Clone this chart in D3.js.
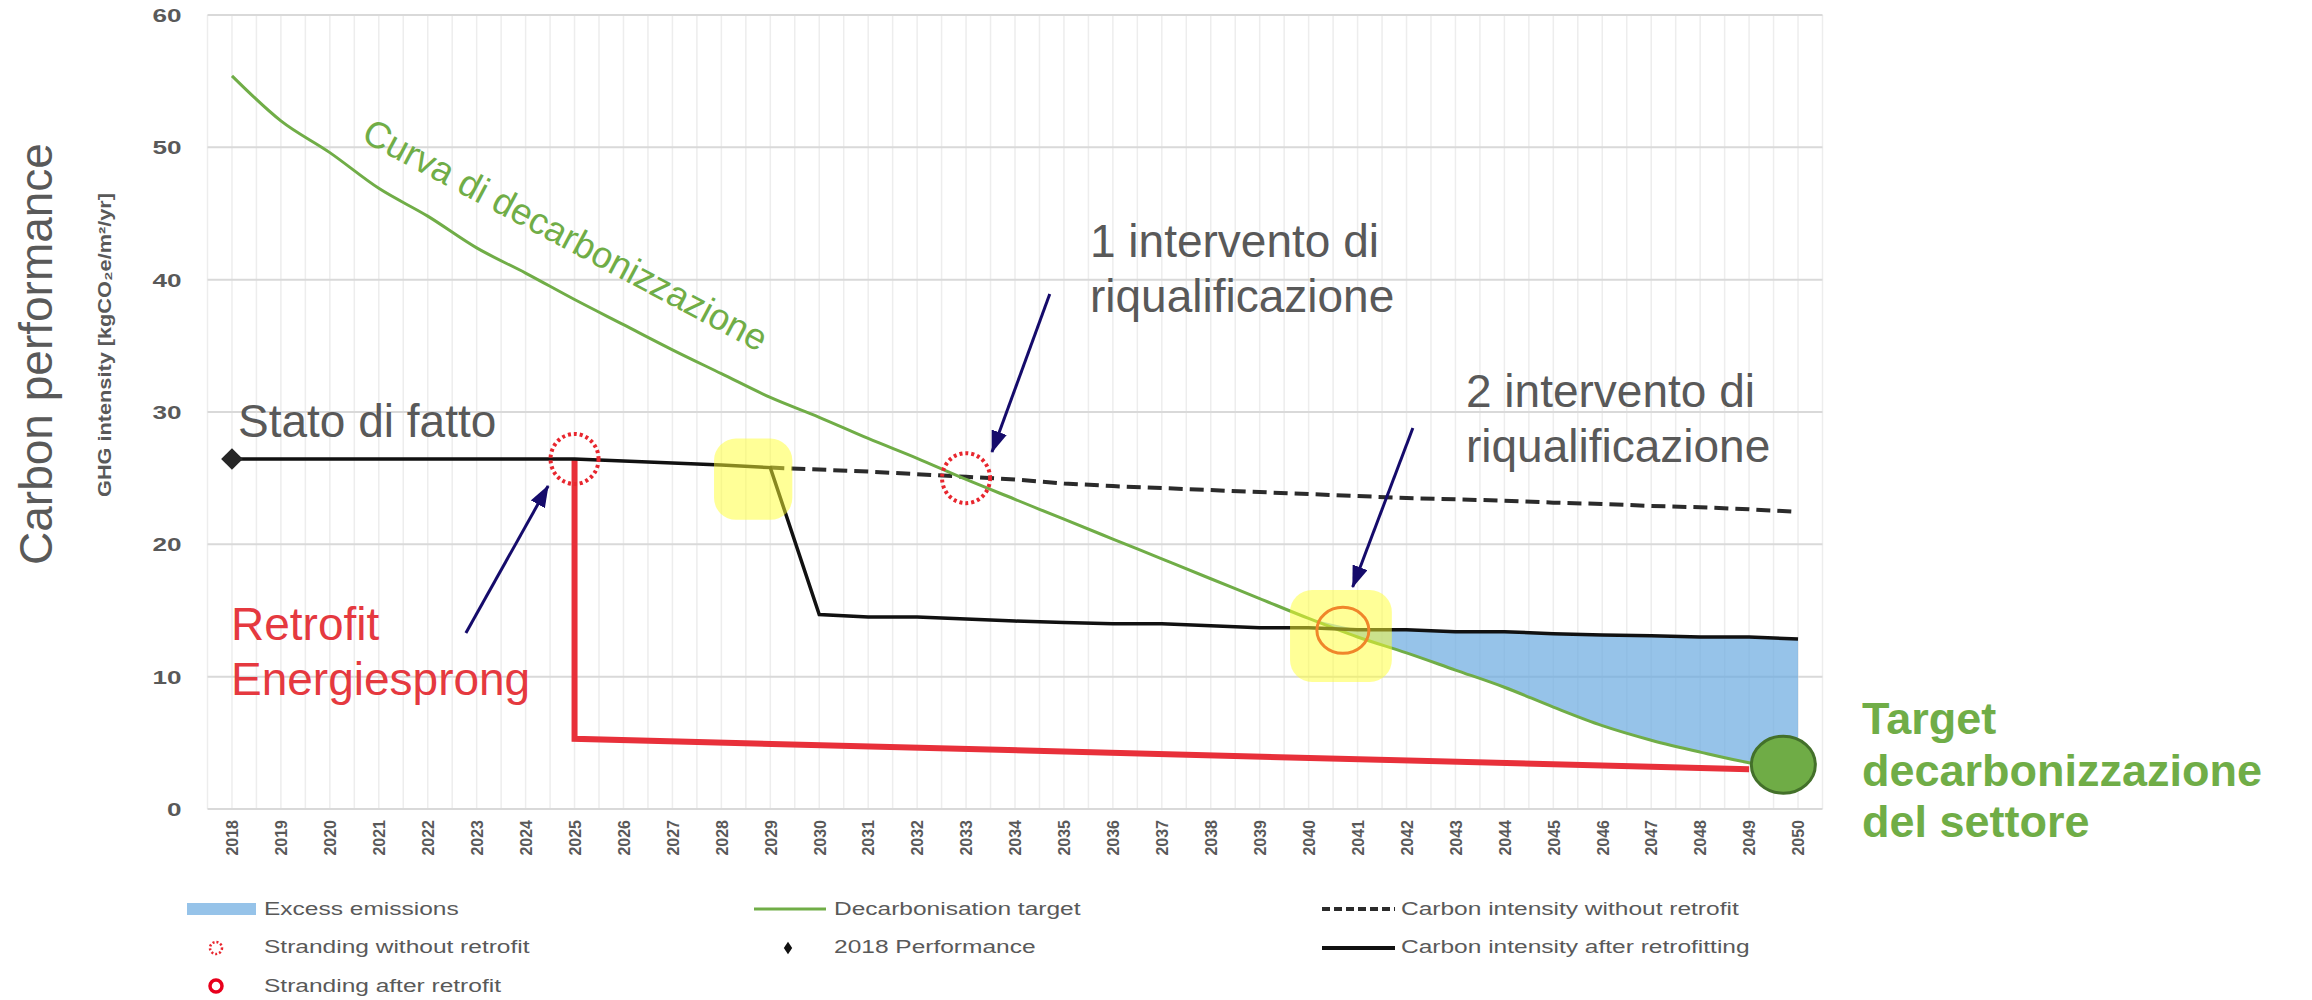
<!DOCTYPE html>
<html lang="it">
<head>
<meta charset="UTF-8" />
<title>Carbon performance - curva di decarbonizzazione</title>
<script src="https://cdn.jsdelivr.net/npm/d3@7"></script>
<style>
  body { margin: 0; background: #fff; }
  svg { display: block; font-family: "Liberation Sans", Arial, Helvetica, sans-serif; }
  .grid-h { stroke: #d9d9d9; stroke-width: 2; }
  .grid-v { stroke: #ededed; stroke-width: 1.5; }
  .note { fill: #595959; font-size: 46px; }
  .legend text { fill: #595959; font-size: 17.5px; }
</style>
</head>
<body>
<svg width="2312" height="1000"></svg>
<script>
// years on the category axis
var years = [2018, 2019, 2020, 2021, 2022, 2023, 2024, 2025, 2026, 2027, 2028,
  2029, 2030, 2031, 2032, 2033, 2034, 2035, 2036, 2037, 2038, 2039, 2040,
  2041, 2042, 2043, 2044, 2045, 2046, 2047, 2048, 2049, 2050];
var yTicks = [0, 10, 20, 30, 40, 50, 60];

// kgCO2e/m2/yr
var decarbonisation = [55.4, 52.0, 49.6, 46.9, 44.8, 42.4, 40.5, 38.5, 36.6,
  34.7, 32.9, 31.1, 29.6, 28.0, 26.5, 24.9, 23.4, 21.9, 20.4, 18.9, 17.4,
  15.9, 14.4, 13.0, 11.8, 10.5, 9.2, 7.7, 6.3, 5.2, 4.3, 3.5, 3.0];
var withoutRetrofit = [26.45, 26.45, 26.45, 26.45, 26.45, 26.45, 26.45, 26.45,
  26.3, 26.15, 26.0, 25.8, 25.65, 25.5, 25.3, 25.1, 24.9, 24.6, 24.4, 24.25,
  24.1, 23.95, 23.8, 23.65, 23.5, 23.4, 23.3, 23.15, 23.05, 22.9, 22.8, 22.65, 22.45];
var afterRetrofit = [26.45, 26.45, 26.45, 26.45, 26.45, 26.45, 26.45, 26.45,
  26.3, 26.15, 26.0, 25.8, 14.7, 14.5, 14.5, 14.35, 14.2, 14.1, 14.0, 14.0,
  13.85, 13.7, 13.7, 13.55, 13.55, 13.4, 13.4, 13.25, 13.15, 13.1, 13.0, 13.0, 12.85];

// Energiesprong retrofit path
var energiesprongYears = [2025, 2025, 2049];
var energiesprongValues = [26.45, 5.3, 3.0];

var performance2018 = { year: 2018, value: 26.45 };
var strandingWithout = [{ year: 2025, value: 26.45 }, { year: 2033, value: 25.0 }];
var strandingAfter = [{ year: 2040.7, value: 13.5 }];
var sectorTarget = { year: 2049.7, value: 3.35 };

// yellow highlights and arrows, in year / value units
var highlights = [
  { x0: 2027.85, x1: 2029.45, v0: 28.0, v1: 21.85 },
  { x0: 2039.62, x1: 2041.7, v0: 16.55, v1: 9.6 }
];
var arrows = [
  { from: [2034.71, 38.92], to: [2033.53, 26.98] },
  { from: [2042.13, 28.79], to: [2040.9, 16.78] },
  { from: [2022.78, 13.3], to: [2024.46, 24.41] }
];

var legendLabels = ["Excess emissions", "Decarbonisation target",
  "Carbon intensity without retrofit", "Stranding without retrofit",
  "2018 Performance", "Carbon intensity after retrofitting", "Stranding after retrofit"];

var green = "#70ad47", red = "#e8303a", navy = "#150b6b", grey = "#595959";

var svg = d3.select("svg");
var x = d3.scaleLinear().domain([2017.5, 2050.5]).range([207.5, 1822.5]);
var y = d3.scaleLinear().domain([0, 60]).range([809, 15]);

function stretch(sel, k) {
  sel.each(function () {
    var w = this.getComputedTextLength();
    d3.select(this).attr("textLength", w * k).attr("lengthAdjust", "spacingAndGlyphs");
  });
}

// gridlines
svg.append("g").selectAll("line")
  .data(d3.range(2017.5, 2050.51, 0.5))
  .enter().append("line")
  .attr("class", "grid-v")
  .attr("x1", function (d) { return x(d); })
  .attr("x2", function (d) { return x(d); })
  .attr("y1", y(60)).attr("y2", y(0));

svg.append("g").selectAll("line")
  .data(yTicks)
  .enter().append("line")
  .attr("class", "grid-h")
  .attr("x1", x(2017.5)).attr("x2", x(2050.5))
  .attr("y1", function (d) { return y(d); })
  .attr("y2", function (d) { return y(d); });

// axes
var yAxis = svg.append("g")
  .attr("transform", "translate(" + x(2017.5) + ",0)")
  .call(d3.axisLeft(y).tickValues(yTicks).tickSize(0).tickPadding(26));
yAxis.select(".domain").remove();
yAxis.selectAll("text")
  .style("font-size", "18px").style("font-weight", "bold").style("fill", grey)
  .style("font-family", "'Liberation Sans', Arial, sans-serif")
  .attr("dy", "0.36em")
  .call(stretch, 1.45);

var xAxis = svg.append("g")
  .attr("transform", "translate(0," + y(0) + ")")
  .call(d3.axisBottom(x).tickValues(years).tickFormat(d3.format("d")).tickSize(0));
xAxis.select(".domain").remove();
xAxis.selectAll("text")
  .style("font-size", "16px").style("font-weight", "bold").style("fill", grey)
  .style("font-family", "'Liberation Sans', Arial, sans-serif")
  .style("text-anchor", "end")
  .attr("transform", "rotate(-90)")
  .attr("x", -11).attr("y", 0).attr("dy", "0.36em");

// excess emissions area
var area = d3.area()
  .defined(function (d, i) { return years[i] >= 2040; })
  .x(function (d, i) { return x(years[i]); })
  .y0(function (d, i) { return y(decarbonisation[i]); })
  .y1(function (d, i) { return y(Math.max(afterRetrofit[i], decarbonisation[i])); });
svg.append("path").datum(years)
  .attr("d", area)
  .attr("fill", "#6aa9e0").attr("fill-opacity", 0.7);

var line = d3.line()
  .x(function (d) { return x(d[0]); })
  .y(function (d) { return y(d[1]); });

function pairs(xs, vs) {
  return xs.map(function (d, i) { return [d, vs[i]]; });
}

var dashedStart = years.indexOf(2029);
svg.append("path")
  .datum(pairs(years, withoutRetrofit).slice(dashedStart))
  .attr("d", line)
  .attr("fill", "none").attr("stroke", "#2b2b2b").attr("stroke-width", 4)
  .attr("stroke-dasharray", "14,7");

svg.append("path")
  .datum(pairs(energiesprongYears, energiesprongValues))
  .attr("d", line)
  .attr("fill", "none").attr("stroke", red).attr("stroke-width", 6);

svg.append("path")
  .datum(pairs(years, decarbonisation))
  .attr("d", line.curve(d3.curveMonotoneX))
  .attr("fill", "none").attr("stroke", green).attr("stroke-width", 3);
line.curve(d3.curveLinear);

svg.append("path")
  .datum(pairs(years, afterRetrofit))
  .attr("d", line)
  .attr("fill", "none").attr("stroke", "#111").attr("stroke-width", 3.5);

svg.append("path")
  .attr("d", d3.symbol(d3.symbolDiamond2, 300)())
  .attr("transform", "translate(" + x(performance2018.year) + "," + y(performance2018.value) + ")")
  .attr("fill", "#262626");

// highlights
svg.append("g").selectAll("rect")
  .data(highlights)
  .enter().append("rect")
  .attr("x", function (d) { return x(d.x0); })
  .attr("width", function (d) { return x(d.x1) - x(d.x0); })
  .attr("y", function (d) { return y(d.v0); })
  .attr("height", function (d) { return y(d.v1) - y(d.v0); })
  .attr("rx", 22)
  .attr("fill", "#ffff30").attr("fill-opacity", 0.5);

// stranding markers
svg.append("g").selectAll("ellipse")
  .data(strandingWithout)
  .enter().append("ellipse")
  .attr("cx", function (d) { return x(d.year); })
  .attr("cy", function (d) { return y(d.value); })
  .attr("rx", 24).attr("ry", 25)
  .attr("fill", "none").attr("stroke", "#e8262e").attr("stroke-width", 4)
  .attr("stroke-dasharray", "3,3");

svg.append("g").selectAll("ellipse")
  .data(strandingAfter)
  .enter().append("ellipse")
  .attr("cx", function (d) { return x(d.year); })
  .attr("cy", function (d) { return y(d.value); })
  .attr("rx", 26).attr("ry", 23)
  .attr("fill", "none").attr("stroke", "#f0862a").attr("stroke-width", 3);

svg.append("ellipse")
  .attr("cx", x(sectorTarget.year)).attr("cy", y(sectorTarget.value))
  .attr("rx", 32).attr("ry", 28.5)
  .attr("fill", "#6fac46").attr("stroke", "#43702a").attr("stroke-width", 3);

// arrows
svg.append("defs").append("marker")
  .attr("id", "head")
  .attr("markerUnits", "userSpaceOnUse")
  .attr("markerWidth", 22).attr("markerHeight", 16)
  .attr("refX", 21).attr("refY", 8)
  .attr("orient", "auto")
  .append("path").attr("d", "M0,0L22,8L0,16Z").attr("fill", navy);

svg.append("g").selectAll("line")
  .data(arrows)
  .enter().append("line")
  .attr("x1", function (d) { return x(d.from[0]); })
  .attr("y1", function (d) { return y(d.from[1]); })
  .attr("x2", function (d) { return x(d.to[0]); })
  .attr("y2", function (d) { return y(d.to[1]); })
  .attr("stroke", navy).attr("stroke-width", 3)
  .attr("marker-end", "url(#head)");

// annotation texts
function textLines(g, lines, x0, y0, step) {
  lines.forEach(function (t, i) {
    g.append("text").attr("x", x0).attr("y", y0 + i * step).text(t);
  });
}

var notes = svg.append("g").attr("class", "note");
textLines(notes, ["Stato di fatto"], 238, 437, 55);
textLines(notes, ["1 intervento di", "riqualificazione"], 1090, 257, 55);
textLines(notes, ["2 intervento di", "riqualificazione"], 1466, 407, 55);

var retrofitNote = svg.append("g").attr("class", "note").style("fill", "#e5393f");
textLines(retrofitNote, ["Retrofit", "Energiesprong"], 231, 640, 55);

var targetNote = svg.append("g").attr("class", "note")
  .style("fill", green).style("font-weight", "bold").style("font-size", "45px");
textLines(targetNote, ["Target", "decarbonizzazione", "del settore"], 1862, 734, 51.5);

svg.append("text")
  .attr("transform", "translate(360,140) rotate(28)")
  .attr("font-size", 37).attr("fill", green)
  .attr("textLength", 452).attr("lengthAdjust", "spacingAndGlyphs")
  .text("Curva di decarbonizzazione");

svg.append("text")
  .attr("transform", "translate(52,354) rotate(-90)")
  .attr("text-anchor", "middle")
  .attr("font-size", 46).attr("fill", grey)
  .text("Carbon performance");

svg.append("text")
  .attr("transform", "translate(111,345) rotate(-90)")
  .attr("text-anchor", "middle")
  .attr("font-size", 18).attr("font-weight", "bold").attr("fill", grey)
  .attr("textLength", 304).attr("lengthAdjust", "spacingAndGlyphs")
  .text("GHG intensity [kgCO₂e/m²/yr]");

// legend
var legend = svg.append("g").attr("class", "legend");
var colText = [264, 834, 1401];
var rowBase = [915, 953, 992];
var rowMid = [909, 948, 986];
var slots = [[0, 0], [1, 0], [2, 0], [0, 1], [1, 1], [2, 1], [0, 2]];

legendLabels.forEach(function (label, i) {
  var c = slots[i][0], r = slots[i][1];
  legend.append("text").attr("x", colText[c]).attr("y", rowBase[r]).text(label)
    .call(stretch, 1.4);
});

legend.append("rect").attr("x", 187).attr("y", rowMid[0] - 6).attr("width", 69).attr("height", 12)
  .attr("fill", "#6aa9e0").attr("fill-opacity", 0.7);
legend.append("line").attr("x1", 754).attr("x2", 826).attr("y1", rowMid[0]).attr("y2", rowMid[0])
  .attr("stroke", green).attr("stroke-width", 3);
legend.append("line").attr("x1", 1322).attr("x2", 1395).attr("y1", rowMid[0]).attr("y2", rowMid[0])
  .attr("stroke", "#2b2b2b").attr("stroke-width", 4).attr("stroke-dasharray", "8,4");
legend.append("circle").attr("cx", 216).attr("cy", rowMid[1]).attr("r", 6)
  .attr("fill", "none").attr("stroke", "#e8262e").attr("stroke-width", 2.5).attr("stroke-dasharray", "2,2");
legend.append("path").attr("d", d3.symbol(d3.symbolDiamond2, 70)())
  .attr("transform", "translate(788," + rowMid[1] + ") scale(0.8,1.2)")
  .attr("fill", "#111");
legend.append("line").attr("x1", 1322).attr("x2", 1395).attr("y1", rowMid[1]).attr("y2", rowMid[1])
  .attr("stroke", "#111").attr("stroke-width", 4);
legend.append("circle").attr("cx", 216).attr("cy", rowMid[2]).attr("r", 6)
  .attr("fill", "none").attr("stroke", "#e8001c").attr("stroke-width", 3.5);
</script>
</body>
</html>
